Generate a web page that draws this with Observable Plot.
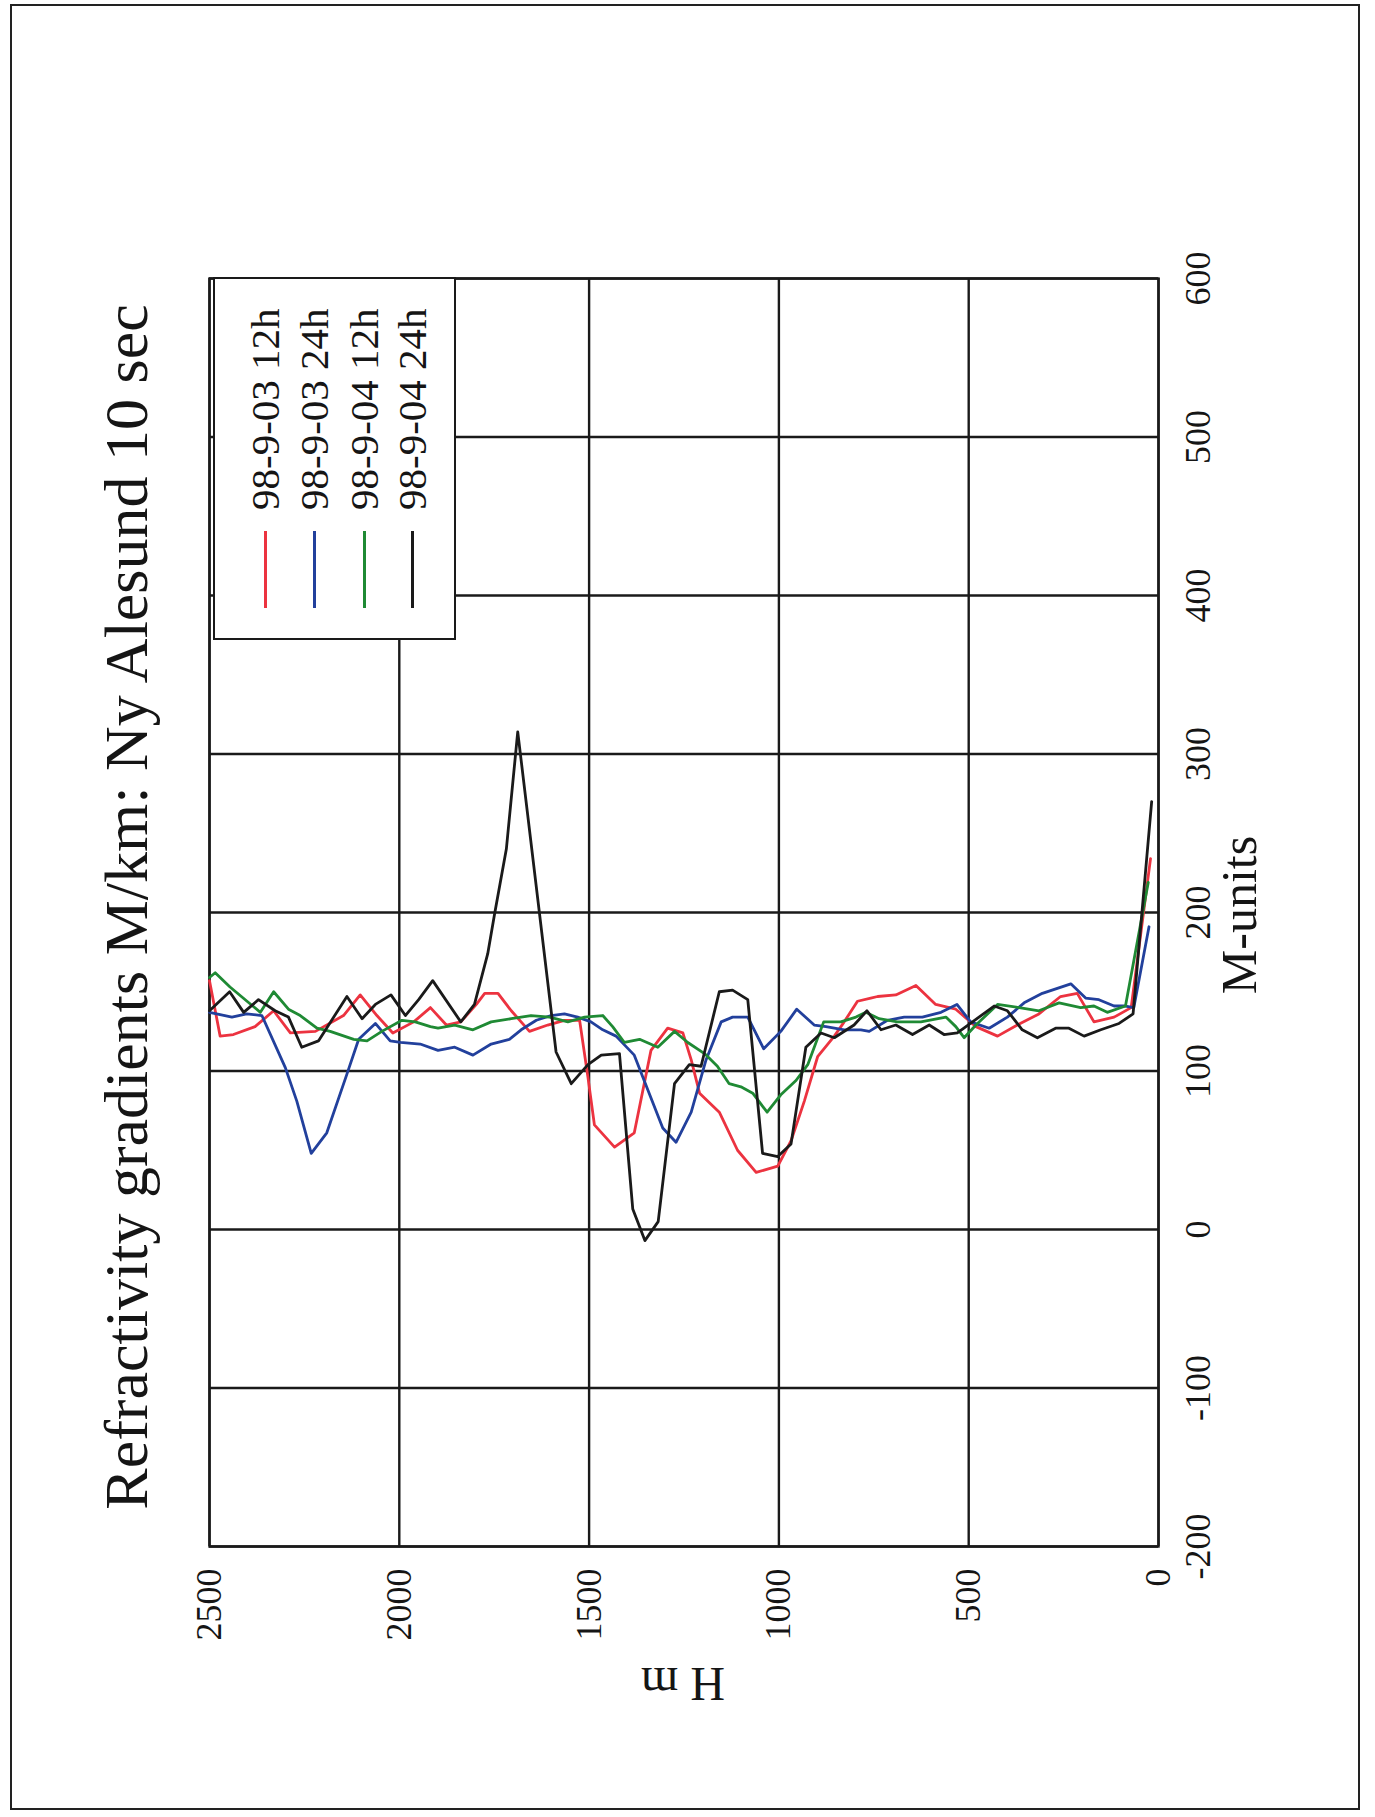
<!DOCTYPE html>
<html><head><meta charset="utf-8">
<script src="https://cdn.jsdelivr.net/npm/d3@7"></script>
<script src="https://cdn.jsdelivr.net/npm/@observablehq/plot@0.6"></script>
<style>
body{margin:0;background:#fff;}
#page{position:relative;width:1375px;height:1817px;overflow:hidden;font-family:"Liberation Serif","Times New Roman",serif;color:#151515;background:#fff;}
#page svg{position:absolute;left:0;top:0;}
.rot{position:absolute;white-space:nowrap;text-align:center;transform-origin:50% 50%;}
#border{position:absolute;left:10px;top:4px;width:1350px;height:1806px;border:2px solid #222;box-sizing:border-box;}
#legend{position:absolute;left:153px;top:337px;width:363px;height:243px;transform:rotate(-90deg);transform-origin:50% 50%;background:#fff;border:2.5px solid #1a1a1a;box-sizing:border-box;}
.lg-line{position:absolute;left:30px;width:77px;height:3px;}
.lg-text{position:absolute;left:128px;height:48px;line-height:48px;font-size:41px;white-space:nowrap;}
</style></head><body><div id="page"><div id="border"></div></div>
<script>
const titleText = "Refractivity gradients M/km: Ny Alesund 10 sec";
const xLabel = "H m";
const yLabel = "M-units";
const hTicks = [0, 500, 1000, 1500, 2000, 2500];
const mTicks = [-200, -100, 0, 100, 200, 300, 400, 500, 600];
const seriesNames = ["98-9-03 12h", "98-9-03 24h", "98-9-04 12h", "98-9-04 24h"];
const seriesColors = ["#ec3340", "#22409c", "#1f8a34", "#1a1a1a"];

const redH = [2500,2472,2437,2380,2331,2287,2221,2147,2103,2059,2017,1962,1918,1876,1838,1797,1775,1740,1705,1657,1609,1565,1525,1503,1486,1433,1381,1337,1293,1253,1231,1209,1157,1109,1060,1003,968,933,898,854,828,793,758,740,692,639,587,534,481,424,372,315,258,214,170,117,72,21];
const redM = [157,122,123,128,138,124,125,135,148,135,124,131,140,129,131,142,149,149,138,125,129,132,132,96,66,52,61,113,127,124,107,86,74,50,36,40,56,81,109,122,131,144,146,147,148,154,142,139,128,122,129,136,147,149,131,134,140,234];

const blueH = [2500,2441,2402,2362,2300,2270,2232,2191,2138,2107,2063,2024,1997,1945,1898,1854,1806,1758,1710,1679,1639,1600,1565,1530,1495,1464,1429,1381,1306,1271,1231,1192,1152,1122,1082,1040,995,953,907,876,828,784,762,714,670,622,573,531,495,446,398,354,306,231,192,157,117,87,65,25];
const blueM = [137,134,136,135,102,81,48,61,98,120,130,119,118,117,113,115,110,117,120,126,132,135,136,134,131,126,122,110,64,55,74,107,131,134,134,114,125,139,129,128,126,126,125,132,134,134,137,142,131,127,134,143,149,155,146,145,141,141,140,191];

const greenH = [2500,2485,2446,2366,2331,2292,2261,2217,2182,2120,2085,2046,1993,1958,1918,1898,1854,1806,1758,1705,1653,1604,1556,1512,1464,1438,1407,1367,1319,1275,1240,1196,1162,1131,1100,1069,1031,995,955,924,882,837,797,771,736,688,626,560,534,512,481,424,367,315,262,205,170,135,87,27];
const greenM = [159,162,153,137,150,139,135,127,125,120,119,125,132,131,128,127,129,126,131,133,135,134,131,134,135,128,118,120,115,125,118,111,103,92,90,86,74,85,94,104,131,131,134,137,133,131,131,134,128,121,129,142,140,138,143,140,141,137,141,219];

const blackH = [2500,2447,2410,2371,2327,2292,2257,2213,2138,2098,2063,2022,1984,1949,1912,1838,1802,1767,1749,1718,1688,1587,1547,1503,1468,1420,1385,1353,1318,1275,1236,1205,1157,1122,1082,1043,1003,968,929,889,854,802,768,731,692,648,604,565,530,490,433,398,359,319,271,236,196,152,104,67,18];
const blackM = [138,150,137,145,138,134,115,119,147,133,142,148,135,145,157,131,142,174,199,240,314,112,92,104,110,111,13,-7,5,92,104,103,150,151,145,48,46,54,115,124,121,129,138,126,129,123,129,123,124,131,141,138,126,121,127,127,122,126,130,136,270];

const seriesH = [redH, blueH, greenH, blackH];
const seriesM = [redM, blueM, greenM, blackM];
const rows = [];
seriesNames.forEach((s, i) => seriesH[i].forEach((h, j) => rows.push({s, H: h, M: seriesM[i][j]})));

const fontFam = "'Liberation Serif', 'Times New Roman', serif";
const chart = Plot.plot({
  width: 1375, height: 1817,
  marginLeft: 209, marginRight: 217, marginTop: 278, marginBottom: 271,
  style: {background: "transparent", fontFamily: fontFam, color: "#151515"},
  x: {domain: [2500, 0], ticks: hTicks, label: null},
  y: {domain: [-200, 600], ticks: mTicks, label: null},
  color: {domain: seriesNames, range: seriesColors},
  marks: [
    Plot.gridX(hTicks, {stroke: "#1a1a1a", strokeOpacity: 1, strokeWidth: 2.4}),
    Plot.gridY(mTicks, {stroke: "#1a1a1a", strokeOpacity: 1, strokeWidth: 2.4}),
    Plot.frame({stroke: "#1a1a1a", strokeWidth: 2.4}),
    Plot.line(rows, {x: "H", y: "M", z: "s", stroke: "s", strokeWidth: 2.8}),
    Plot.axisX(hTicks, {anchor: "bottom", tickSize: 0, tickPadding: 22, tickRotate: -90, fontSize: 36, fontFamily: fontFam, label: null, textAnchor: "end", lineAnchor: "middle", tickFormat: d => String(d), fill: "#151515"}),
    Plot.axisY(mTicks, {anchor: "right", tickSize: 0, tickPadding: 26, tickRotate: -90, fontSize: 36, fontFamily: fontFam, label: null, textAnchor: "middle", lineAnchor: "top", tickFormat: d => String(d), fill: "#151515"})
  ]
});
const page = document.getElementById("page");
page.appendChild(chart);

function addRot(text, cx, cy, w, h, fs, deg) {
  const d = document.createElement("div");
  d.className = "rot";
  d.textContent = text;
  d.style.left = (cx - w / 2) + "px";
  d.style.top = (cy - h / 2) + "px";
  d.style.width = w + "px";
  d.style.height = h + "px";
  d.style.lineHeight = h + "px";
  d.style.fontSize = fs + "px";
  d.style.transform = `rotate(${deg}deg)`;
  page.appendChild(d);
}
addRot(titleText, 126, 907, 1300, 62, 62, -90);
addRot(yLabel, 1239, 915, 300, 50, 50, -90);
addRot(xLabel, 683, 1684, 200, 48, 48, 180);

const lg = document.createElement("div");
lg.id = "legend";
const rowV = [50, 99, 149, 197];
seriesNames.forEach((s, i) => {
  const ln = document.createElement("div");
  ln.className = "lg-line";
  ln.style.top = (rowV[i] - 1) + "px";
  ln.style.background = seriesColors[i];
  lg.appendChild(ln);
  const tx = document.createElement("div");
  tx.className = "lg-text";
  tx.style.top = (rowV[i] - 24) + "px";
  tx.textContent = s;
  lg.appendChild(tx);
});
page.appendChild(lg);
</script>
</body></html>
